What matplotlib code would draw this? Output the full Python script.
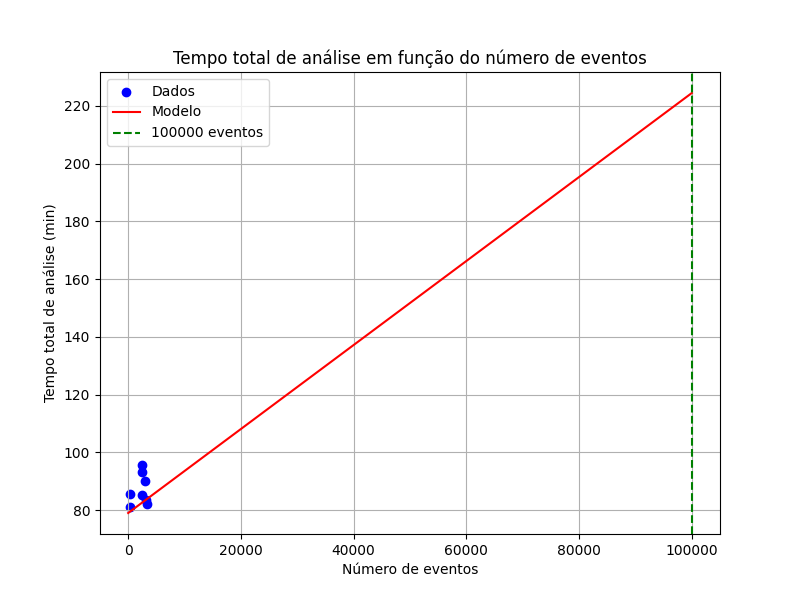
import numpy as np
import matplotlib.pyplot as plt

eventos = [350, 350, 2500, 2500, 2500, 3000, 3200, 3300]
tempos = [81.0, 85.5, 95.6, 93.3, 85.3, 90.2, 83.5, 82.2]
modelo_a = 0.001455
modelo_b = 79.0
limite = 100000

x_mod = np.linspace(0, limite, 200)
y_mod = modelo_a * x_mod + modelo_b

fig, ax = plt.subplots(figsize=(8, 6))
ax.scatter(eventos, tempos, c='blue', label='Dados')
ax.plot(x_mod, y_mod, c='red', label='Modelo')
ax.axvline(limite, color='green', linestyle='--', label='100000 eventos')
ax.set_xlabel('Número de eventos')
ax.set_ylabel('Tempo total de análise (min)')
ax.set_title('Tempo total de análise em função do número de eventos')
ax.legend(loc='upper left')
ax.grid(True)
fig.savefig('out.png', dpi=100)
